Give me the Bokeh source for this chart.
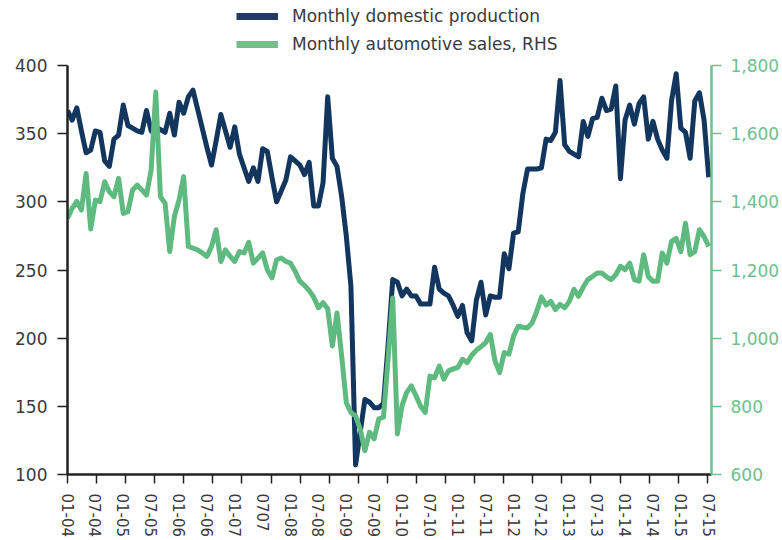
from bokeh.plotting import figure
from bokeh.layouts import column
from bokeh.models import (Range1d, LinearAxis, FixedTicker, Legend, LegendItem,
                          NumeralTickFormatter, ColumnDataSource)
from bokeh.embed import file_html
from bokeh.resources import INLINE

# ---- data ----
month_index = list(range(139))  # 0 = Jan 2004 ... 138 = Jul 2015

production = [367, 360, 369, 352, 336, 338, 352, 351, 330, 326,
              346, 349, 371, 356, 354, 352, 351, 367, 352, 355,
              353, 351, 365, 349, 373, 365, 377, 382, 368, 354,
              340, 327, 345, 364, 352, 340, 355, 335, 325, 315,
              325, 315, 339, 337, 318, 300, 308, 316, 333, 330,
              327, 320, 329, 297, 297, 314, 377, 332, 326, 304,
              275, 238, 107, 131, 155, 153, 149, 149, 152, 195,
              243, 241, 231, 236, 231, 231, 225, 225, 225, 252,
              236, 233, 231, 224, 216, 224, 204, 198, 228, 241,
              217, 231, 230, 230, 262, 251, 277, 278, 306, 324,
              324, 324, 325, 346, 345, 351, 389, 342, 337, 335,
              333, 359, 348, 361, 362, 376, 367, 368, 385, 317,
              360, 371, 357, 372, 377, 346, 359, 346, 338, 332,
              374, 394, 354, 351, 332, 374, 380, 360, 318]

sales = [1352, 1381, 1401, 1376, 1483, 1320, 1405, 1401, 1459, 1430,
         1415, 1469, 1366, 1371, 1435, 1449, 1435, 1420, 1493, 1722,
         1415, 1396, 1254, 1357, 1405, 1474, 1269, 1264, 1259, 1250,
         1240, 1269, 1318, 1225, 1259, 1240, 1225, 1254, 1250, 1281,
         1220, 1235, 1250, 1201, 1177, 1230, 1235, 1225, 1220, 1196,
         1167, 1155, 1140, 1120, 1089, 1104, 1086, 977, 1074, 948,
         811, 782, 772, 733, 670, 724, 705, 763, 768, 940,
         1118, 719, 802, 841, 860, 831, 800, 782, 889, 884,
         918, 880, 904, 910, 914, 938, 928, 950, 965, 975,
         987, 1011, 933, 899, 958, 953, 1006, 1035, 1032, 1030,
         1045, 1079, 1121, 1097, 1108, 1084, 1099, 1089, 1108, 1143,
         1123, 1150, 1172, 1181, 1191, 1191, 1180, 1172, 1186, 1211,
         1201, 1220, 1172, 1167, 1245, 1181, 1167, 1167, 1250, 1220,
         1284, 1293, 1254, 1337, 1245, 1254, 1318, 1298, 1269]

tick_labels = ["01-04", "07-04", "01-05", "07-05", "01-06", "07-06", "01-07", "0707",
               "01-08", "07-08", "01-09", "07-09", "01-10", "07-10", "01-11", "07-11",
               "01-12", "07-12", "01-13", "07-13", "01-14", "07-14", "01-15", "07-15"]
label_months = [6 * i for i in range(len(tick_labels))]

left_ticks = [100, 150, 200, 250, 300, 350, 400]
right_ticks = [600, 800, 1000, 1200, 1400, 1600, 1800]

series_names = ["Monthly domestic production", "Monthly automotive sales, RHS"]

NAVY = "#12365e"
GREEN = "#5fba80"
AXIS_GREEN = "#6fc08c"
TEXT = "#3a3a3a"
FONT = "DejaVu Sans"

LEG_H = 55

source = ColumnDataSource(data=dict(m=month_index, prod=production, sales=sales))

p = figure(width=782, height=540 - LEG_H, output_backend="svg", toolbar_location=None,
           x_range=Range1d(0, 138.6), y_range=Range1d(100, 400),
           min_border_left=67, min_border_right=71, min_border_bottom=65,
           min_border_top=65 - LEG_H)
p.extra_y_ranges = {"rhs": Range1d(600, 1800)}
p.outline_line_color = None
p.xgrid.visible = False
p.ygrid.visible = False
p.background_fill_color = "white"

# lines (green drawn on top)
p.line("m", "prod", source=source, line_color=NAVY, line_width=5, line_join="round")
p.line("m", "sales", source=source, line_color=GREEN, line_width=5, line_join="round",
       y_range_name="rhs")

# ---- x axis ----
minor_positions = [i * 137.7 / 22 for i in range(23)]
xa = p.xaxis[0]
xa.ticker = FixedTicker(ticks=label_months, minor_ticks=minor_positions)
xa.major_label_overrides = {float(m): lbl for m, lbl in zip(label_months, tick_labels)}
xa.major_label_orientation = "vertical"
xa.major_tick_line_color = None
xa.major_tick_out = 10
xa.major_tick_in = 0
xa.minor_tick_line_color = "#222222"
xa.minor_tick_line_width = 1.5
xa.minor_tick_out = 9
xa.minor_tick_in = 0
xa.major_label_standoff = 9
xa.axis_line_color = "#222222"
xa.axis_line_width = 2.5
xa.major_label_text_font = FONT
xa.major_label_text_font_size = "15px"
xa.major_label_text_color = TEXT

# ---- left axis ----
ya = p.yaxis[0]
ya.ticker = FixedTicker(ticks=left_ticks)
ya.axis_line_color = "#222222"
ya.axis_line_width = 2.5
ya.major_tick_line_color = "#222222"
ya.major_tick_line_width = 1.5
ya.major_tick_out = 10
ya.major_tick_in = 0
ya.minor_tick_line_color = None
ya.major_label_standoff = 10
ya.major_label_text_font = FONT
ya.major_label_text_font_size = "17px"
ya.major_label_text_color = TEXT

# ---- right axis ----
ra = LinearAxis(y_range_name="rhs", ticker=FixedTicker(ticks=right_ticks),
                formatter=NumeralTickFormatter(format="0,0"))
ra.axis_line_color = AXIS_GREEN
ra.axis_line_width = 2.5
ra.major_tick_line_color = AXIS_GREEN
ra.major_tick_line_width = 1.5
ra.major_tick_out = 10
ra.major_tick_in = 0
ra.minor_tick_line_color = None
ra.major_label_standoff = 9
ra.major_label_text_font = FONT
ra.major_label_text_font_size = "17px"
ra.major_label_text_color = AXIS_GREEN
p.add_layout(ra, "right")

# ---- legend (own strip above the chart) ----
lf = figure(width=782, height=LEG_H, output_backend="svg", toolbar_location=None,
            x_range=Range1d(0, 1), y_range=Range1d(0, 1),
            x_axis_type=None, y_axis_type=None, min_border=0)
lf.outline_line_color = None
lf.xgrid.visible = False
lf.ygrid.visible = False
leg_prod = lf.line([5, 6], [5, 5], line_color="#223a66", line_width=7)
leg_sales = lf.line([5, 6], [5, 5], line_color="#74bf89", line_width=7)
legend = Legend(items=[LegendItem(label=series_names[0], renderers=[leg_prod]),
                       LegendItem(label=series_names[1], renderers=[leg_sales])],
                location=(169, 1), orientation="vertical", margin=0, padding=0,
                spacing=8, glyph_width=42, glyph_height=18, label_height=18,
                label_standoff=14, border_line_color=None, background_fill_alpha=0,
                label_text_font=FONT, label_text_font_size="17px",
                label_text_color=TEXT)
lf.add_layout(legend, "center")

layout = column(lf, p, spacing=0)
open("out.html", "w").write(file_html(layout, INLINE))
